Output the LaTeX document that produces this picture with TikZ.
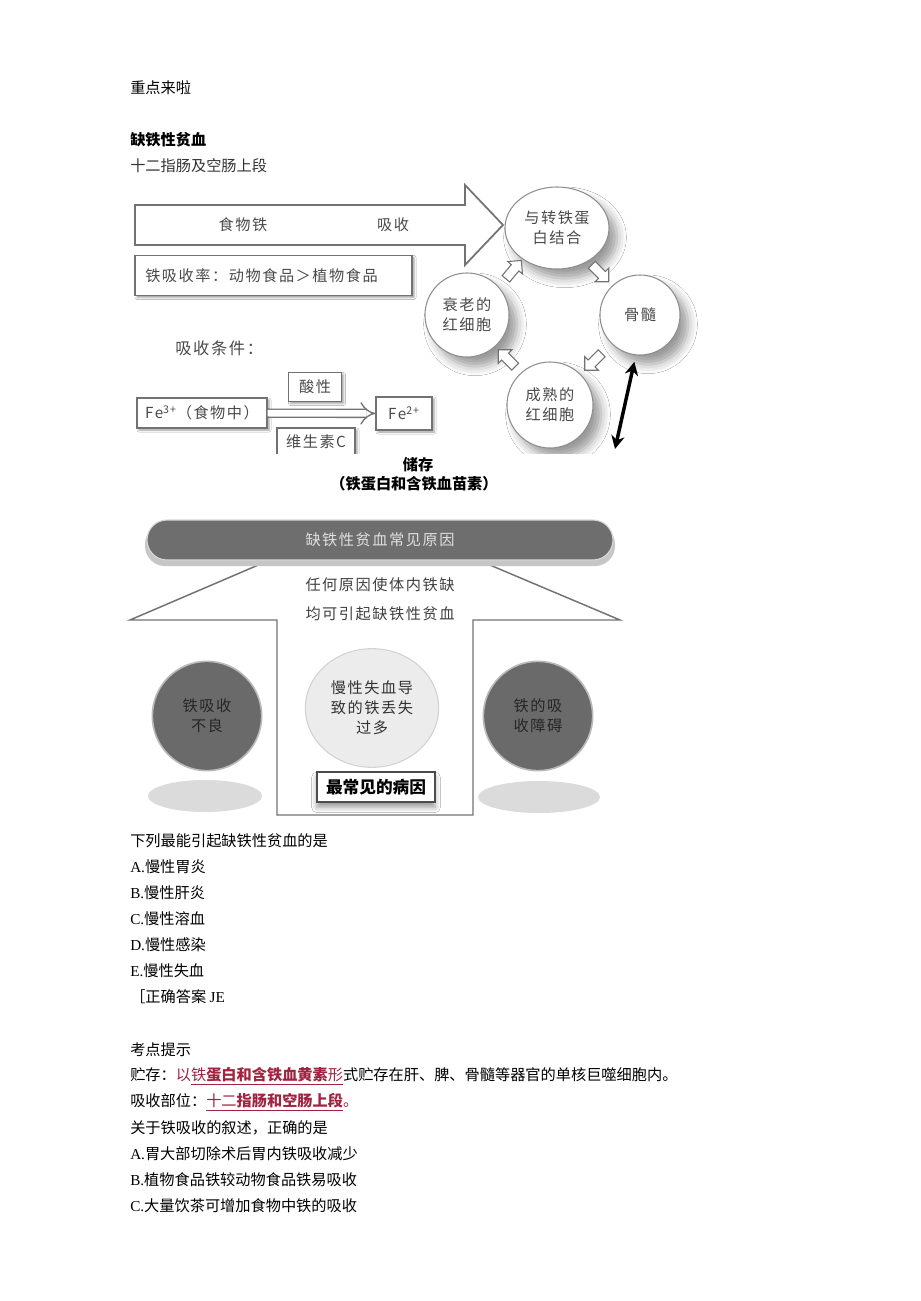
\documentclass[tikz,border=0pt]{standalone}
\usepackage{fontspec}
\setmainfont{Liberation Serif}
\newfontfamily\cjk{Noto Sans CJK SC}
\newfontfamily\dgm[LetterSpace=10]{Noto Sans CJK SC}
\usetikzlibrary{shapes.geometric,shapes.arrows,shadows.blur,arrows.meta,calc}

\definecolor{dred}{HTML}{A12340}
\definecolor{ink}{HTML}{4A4A4A}
\definecolor{rim}{HTML}{727272}
\definecolor{bar}{HTML}{6E6E6E}
\definecolor{disc}{HTML}{6A6A6A}

\newcommand\opt[2]{{\rmfamily #1}{\cjk #2}}

\tikzset{
  txt/.style={anchor=west, inner sep=0pt, font=\cjk\fontsize{11.4}{13}\selectfont},
  lbl/.style={inner sep=0pt, text=ink, align=center, font=\dgm\fontsize{11.4}{15}\selectfont},
  graybox/.style={lbl, draw=rim, line width=1.1pt, fill=white,
    blur shadow={shadow xshift=1.5pt, shadow yshift=-1.5pt, shadow blur radius=1.5pt, shadow opacity=40}},
  bubble/.style={lbl, circle, draw=rim!80, line width=0.8pt, fill=white,
    blur shadow={shadow xshift=6pt, shadow yshift=-7pt, shadow blur radius=7pt, shadow opacity=40}},
  cyclearr/.style={single arrow, draw=rim, line width=0.8pt, fill=white, minimum height=18pt,
    inner sep=3.3pt, single arrow head extend=3.5pt, single arrow head indent=0pt},
  disk/.style={lbl, circle, fill=disc, draw=gray!55, line width=1.2pt, text=black!85, minimum size=82pt},
  floor/.style={ellipse, fill=gray!28, inner sep=0pt},
}

\begin{document}
\begin{tikzpicture}[x=0.75pt, y=-0.75pt]

\fill[white] (0,0) rectangle (920,1301);
\useasboundingbox (0,0) rectangle (920,1301);

\node[txt] (intro) at (130,88) {重点来啦};
\node[txt, font=\cjk\bfseries\fontsize{11.4}{13}\selectfont] (title) at (130,140) {缺铁性贫血};
\node[txt, text=black!80] (site) at (130,166) {十二指肠及空肠上段};

% first picture: uptake and cycle
\begin{scope}
\clip (128,178) rectangle (712,453);

\draw[rim, line width=1.3pt, fill=white] (135,205) -- (465,205) -- (465,185) -- (503,225)
  -- (465,265) -- (465,245) -- (135,245) -- cycle;
\node[lbl] (food) at (243,225) {食物铁};
\node[lbl] (absorb) at (393,225) {吸收};

\node[graybox, minimum width=207.75pt, minimum height=30pt] (ratebox) at (273.5,275.5) {};
\node[lbl, anchor=west] (rate) at (145,276) {铁吸收率：动物食品＞植物食品};

\node[lbl, anchor=west, font=\dgm\fontsize{12.2}{15}\selectfont] (cond) at (175,348) {吸收条件：};

\node[graybox, minimum width=97.5pt, minimum height=22.5pt] (fe3) at (202,413) {Fe\textsuperscript{3+}（食物中）};
\node[graybox, minimum width=42pt, minimum height=24.75pt] (fe2) at (404,413.5) {Fe\textsuperscript{2+}};
\node[graybox, minimum width=39.75pt, minimum height=21.75pt] (acid) at (315,387) {酸性};
\node[graybox, minimum width=58.5pt, minimum height=21pt] (vitc) at (316,442) {维生素C};
\draw[rim, line width=1pt, double=white, double distance=5pt, -{Implies}] (fe3) -- (fe2);

\node[bubble, ellipse, minimum width=78pt, minimum height=61.5pt] (tf) at (557,228) {与转铁蛋\\白结合};
\node[bubble, minimum size=60pt] (bm) at (640,315) {骨髓};
\node[bubble, minimum size=63pt] (old) at (467,315) {衰老的\\红细胞};
\node[bubble, minimum size=64.5pt] (rbc) at (550,405) {成熟的\\红细胞};

\node[cyclearr, rotate=50] (c1) at ($(old)!0.5!(tf)$) {};
\node[cyclearr, rotate=-45] (c2) at ($(tf)!0.5!(bm)$) {};
\node[cyclearr, rotate=-135] (c3) at ($(bm)!0.5!(rbc)$) {};
\node[cyclearr, rotate=135] (c4) at ($(rbc)!0.5!(old)$) {};

\coordinate (pool) at (615,449);
\draw[line width=2.6pt, {Stealth[length=10pt,width=10pt]}-{Stealth[length=10pt,width=10pt]}]
  ([yshift=-5pt]bm.262) -- (pool);
\end{scope}

\node[inner sep=0pt, font=\cjk\bfseries\fontsize{11.4}{13}\selectfont] (storelbl) at (418,465) {储存};
\node[inner sep=0pt, font=\cjk\bfseries\fontsize{11.4}{13}\selectfont] (storenote) at (414,484) {（铁蛋白和含铁血苗素）};

% second picture: causes
\draw[rim, line width=1.1pt, fill=white] (270,560) -- (130,620) -- (277,620) -- (277,815)
  -- (473,815) -- (473,620) -- (620,620) -- (478,560);

\fill[gray!45, rounded corners=15pt] (145,524) rectangle (615,566);
\node[fill=bar, draw=gray!30, line width=0.8pt, rounded corners=15pt, minimum width=349.5pt,
  minimum height=30pt, inner sep=0pt, text=gray!25, font=\dgm\fontsize{11.4}{15}\selectfont] (cause) at (380,540) {缺铁性贫血常见原因};

\node[lbl, text=black!75] (why1) at (380,585) {任何原因使体内铁缺};
\node[lbl, text=black!75] (why2) at (380,614) {均可引起缺铁性贫血};

\node[floor, minimum width=85.5pt, minimum height=24pt] (lfloor) at (205,796) {};
\node[disk] (poor) at (207,716) {铁吸收\\不良};
\node[floor, minimum width=91.5pt, minimum height=24pt] (rfloor) at (539,797) {};
\node[disk] (block) at (538,716) {铁的吸\\收障碍};

\node[lbl, ellipse, fill=gray!15, draw=gray!35, line width=0.8pt, minimum width=100pt,
  minimum height=89pt, text=black!80] (loss) at (372,708) {慢性失血导\\致的铁丢失\\过多};
\node[draw=black!70, line width=1.2pt, fill=white, minimum width=88.5pt, minimum height=22.5pt,
  inner sep=0pt, font=\cjk\bfseries\fontsize{12.5}{14}\selectfont,
  blur shadow={shadow xshift=0pt, shadow yshift=-4pt, shadow blur radius=4pt, shadow opacity=40}] (main) at (376,787) {最常见的病因};

% questions and notes
\node[txt] (q1) at (130,841) {下列最能引起缺铁性贫血的是};
\node[txt] (q1a) at (130,867) {\opt{A.}{慢性胃炎}};
\node[txt] (q1b) at (130,893) {\opt{B.}{慢性肝炎}};
\node[txt] (q1c) at (130,919) {\opt{C.}{慢性溶血}};
\node[txt] (q1d) at (130,945) {\opt{D.}{慢性感染}};
\node[txt] (q1e) at (130,971) {\opt{E.}{慢性失血}};
\node[txt] (key) at (130,997) {［正确答案 {\rmfamily JE}};

\node[txt] (tips) at (130,1050) {考点提示};
\node[txt] (keep) at (130,1076) {贮存：\textcolor{dred}{以\underline{铁{\bfseries 蛋白和含铁血黄素}形}}式贮存在肝、脾、骨髓等器官的单核巨噬细胞内。};
\node[txt] (where) at (130,1102) {吸收部位：\textcolor{dred}{\underline{十二{\bfseries 指肠和空肠上段}}。}};
\node[txt] (q2) at (130,1128) {关于铁吸收的叙述，正确的是};
\node[txt] (q2a) at (130,1154) {\opt{A.}{胃大部切除术后胃内铁吸收减少}};
\node[txt] (q2b) at (130,1180) {\opt{B.}{植物食品铁较动物食品铁易吸收}};
\node[txt] (q2c) at (130,1206) {\opt{C.}{大量饮茶可增加食物中铁的吸收}};

\end{tikzpicture}
\end{document}
